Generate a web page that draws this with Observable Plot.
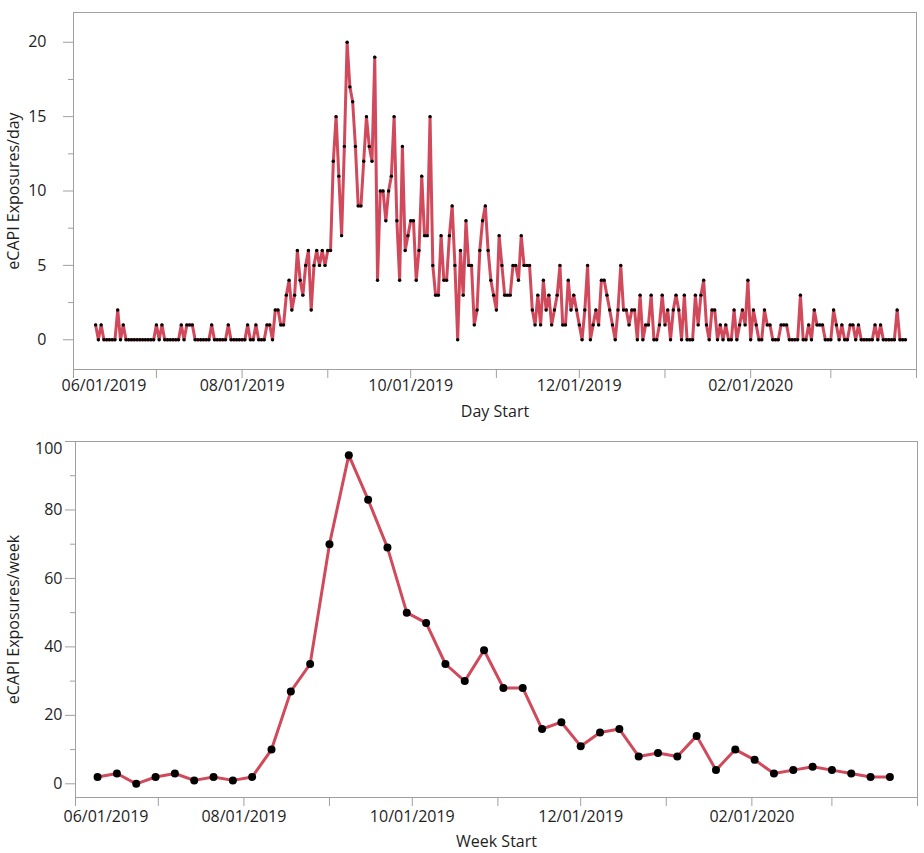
<!DOCTYPE html>
<html>
<head>
<meta charset="utf-8">
<script src="https://cdn.jsdelivr.net/npm/d3@7"></script>
<script src="https://cdn.jsdelivr.net/npm/@observablehq/plot@0.6"></script>
<style>
  body { margin: 0; background: #fff; }
  #chart svg { display: block; }
</style>
</head>
<body>
<div id="chart"></div>
<script>
// ---------- data ----------
const dayStartDate = "2019-06-09";
const dailyExposures = [
  1,0,1,0,0,0,0,   0,2,0,1,0,0,0,   0,0,0,0,0,0,0,   0,1,0,1,0,0,0,
  0,0,0,1,0,1,1,   1,0,0,0,0,0,0,   1,0,0,0,0,0,1,   0,0,0,0,0,0,1,
  0,0,1,0,0,0,1,   1,0,2,2,1,1,3,   4,2,3,6,4,3,5,   6,2,5,6,5,6,5,
  6,6,12,15,11,7,13, 20,17,16,13,9,9,12, 15,13,12,19,4,10,10, 8,10,11,15,8,4,13,
  6,7,8,8,4,6,11,  7,7,15,5,3,3,7,  4,4,7,9,5,0,6,   3,8,5,5,1,2,6,
  8,9,6,4,3,2,7,   5,3,3,3,5,5,4,   7,5,5,5,2,1,3,   1,4,2,3,1,2,3,
  5,1,1,4,2,3,2,   1,0,2,5,0,1,2,   1,4,4,3,2,1,0,   2,5,2,2,1,2,2,
  0,3,0,1,1,3,0,   0,1,3,1,2,0,2,   3,2,0,3,0,0,0,   3,1,3,4,1,0,2,
  2,0,1,0,1,0,0,   2,0,1,2,1,4,0,   2,1,0,0,2,1,1,   0,0,0,1,1,1,0,
  0,0,0,3,0,0,1,   0,2,1,1,1,0,0,   0,2,1,0,1,0,0,   1,1,0,1,0,0,0,
  0,0,1,0,1,0,0,   0,0,0,2,0,0,0
];
const weekStartDate = "2019-06-09";
const weeklyExposures = [
  2,3,0,2,3,1,2,1,2,10,27,35,70,96,83,69,50,47,35,30,39,
  28,28,16,18,11,15,16,8,9,8,14,4,10,7,3,4,5,4,3,2,2
];
const xDomainDates = ["2019-06-01", "2020-04-01"];
const monthTickDates = [
  "2019-06-01","2019-07-01","2019-08-01","2019-09-01","2019-10-01","2019-11-01",
  "2019-12-01","2020-01-01","2020-02-01","2020-03-01","2020-04-01"
];
const xTickLabels = ["06/01/2019","08/01/2019","10/01/2019","12/01/2019","02/01/2020"];
const dailyYTicks = [0, 5, 10, 15, 20];
const dailyYMinorTicks = [2.5, 7.5, 12.5, 17.5];
const weeklyYTicks = [0, 20, 40, 60, 80, 100];
const weeklyYMinorTicks = [10, 30, 50, 70, 90];
const dailyYDomain = [-2, 22];
const weeklyYDomain = [-4, 100];
const titles = {
  dailyY: "eCAPI Exposures/day", dailyX: "Day Start",
  weeklyY: "eCAPI Exposures/week", weeklyX: "Week Start"
};

// ---------- build tables ----------
const parseLabel = d3.utcParse("%m/%d/%Y");
const fmtLabel = d3.utcFormat("%m/%d/%Y");
const daily = dailyExposures.map((v, i) => ({date: d3.utcDay.offset(new Date(dayStartDate), i), value: v}));
const weekly = weeklyExposures.map((v, i) => ({date: d3.utcDay.offset(new Date(weekStartDate), 7 * i), value: v}));
const xDomain = xDomainDates.map(d => new Date(d));
const monthTicks = monthTickDates.map(d => new Date(d));
const labelDates = xTickLabels.map(parseLabel);

const FONT = '"Segoe UI", "Open Sans", "Noto Sans", sans-serif';
const RED = "#d04a5c";
const INK = "#1e1e1e";
const GRID = "#a0a0a0";

function makeChart({data, height, marginTop, marginBottom, marginLeft, marginRight,
                    yDomain, yTicks, yMinor, yLabel, xLabel, yPad, xPad, xLabelOffset, dotR, shiftTop}) {
  const topTick = yTicks[yTicks.length - 1];
  const hideTop = shiftTop && topTick === yDomain[1];
  const marks = [
    Plot.frame({stroke: GRID}),
    Plot.axisY(yMinor, {tickSize: 5, tickFormat: () => "", stroke: GRID, label: null}),
    Plot.axisY(yTicks, {tickSize: 10, tickPadding: yPad, stroke: GRID, fill: INK,
      tickFormat: d => (hideTop && d === topTick) ? "" : String(d),
      label: yLabel, labelAnchor: "center", labelArrow: "none", labelOffset: marginLeft - 7}),
    Plot.axisX(monthTicks, {tickSize: 9, tickFormat: () => "", stroke: GRID, label: null}),
    Plot.axisX(labelDates.slice(1), {tickSize: 0, tickPadding: 9 + xPad, tickFormat: fmtLabel,
      fill: INK, label: xLabel, labelAnchor: "center", labelArrow: "none", labelOffset: xLabelOffset}),
    Plot.axisX(labelDates.slice(0, 1), {tickSize: 0, tickPadding: 9 + xPad, tickFormat: fmtLabel,
      fill: INK, textAnchor: "start", dx: -12, label: null}),
    Plot.line(data, {x: "date", y: "value", stroke: RED, strokeWidth: 3, strokeLinejoin: "round"}),
    Plot.dot(data, {x: "date", y: "value", r: dotR, fill: "black", stroke: "none"})
  ];
  if (hideTop) {
    // the top label is nudged down inside the frame, as in the original
    marks.push(Plot.axisY([topTick], {tickSize: 0, tickPadding: 10 + yPad, dy: 7, fill: INK, label: null}));
  }
  return Plot.plot({
    width: 924,
    height, marginTop, marginBottom, marginLeft, marginRight,
    style: {fontFamily: FONT, fontSize: "16px", color: INK, background: "white", display: "block"},
    x: {type: "utc", domain: xDomain},
    y: {domain: yDomain},
    marks
  });
}

const dailyChart = makeChart({
  data: daily, height: 425, marginTop: 12, marginBottom: 56, marginLeft: 73, marginRight: 8,
  yDomain: dailyYDomain, yTicks: dailyYTicks, yMinor: dailyYMinorTicks,
  yLabel: titles.dailyY, xLabel: titles.dailyX, yPad: 17, xPad: 1, xLabelOffset: 47, dotR: 1.7, shiftTop: false
});
const weeklyChart = makeChart({
  data: weekly, height: 428, marginTop: 16, marginBottom: 56, marginLeft: 75, marginRight: 7,
  yDomain: weeklyYDomain, yTicks: weeklyYTicks, yMinor: weeklyYMinorTicks,
  yLabel: titles.weeklyY, xLabel: titles.weeklyX, yPad: 3, xPad: 4, xLabelOffset: 49, dotR: 4, shiftTop: true
});
const root = document.getElementById("chart");
root.appendChild(dailyChart);
root.appendChild(weeklyChart);
</script>
</body>
</html>
